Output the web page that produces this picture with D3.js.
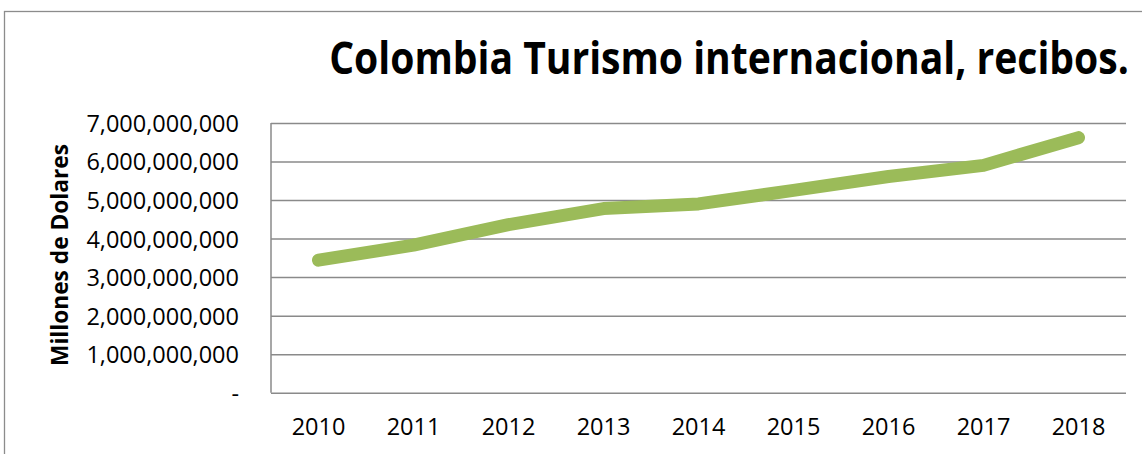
<!DOCTYPE html>
<html><head><meta charset="utf-8">
<script src="https://cdn.jsdelivr.net/npm/d3@7"></script>
<style>html,body{margin:0;padding:0;background:#fff;overflow:hidden}svg{display:block}</style>
</head><body>
<script>
const years = ["2010","2011","2012","2013","2014","2015","2016","2017","2018"];
const receipts = [3440000000, 3830000000, 4360000000, 4780000000, 4900000000, 5250000000, 5610000000, 5900000000, 6620000000];
const yTicks = [0, 1000000000, 2000000000, 3000000000, 4000000000, 5000000000, 6000000000, 7000000000];
const title = "Colombia Turismo internacional, recibos.";
const yTitle = "Millones de Dolares";

const W = 1142, H = 454;
const m = {left: 271, right: 1126, top: 123, bottom: 392.7};
const svg = d3.select("body").append("svg").attr("width", W).attr("height", H);
const font = "'Open Sans', 'Noto Sans', sans-serif";

svg.append("rect").attr("x", 4.5).attr("y", 11.5).attr("width", W + 10).attr("height", H + 10)
  .attr("fill", "none").attr("stroke", "#8c8c8c").attr("stroke-width", 1.3);

const x = d3.scaleBand().domain(years).range([m.left, m.right]).padding(0);
const y = d3.scaleLinear().domain([0, 7000000000]).range([m.bottom, m.top]);

// gridlines
const grid = svg.append("g")
  .attr("transform", `translate(${m.left},0)`)
  .call(d3.axisLeft(y).tickValues(yTicks).tickSize(-(m.right - m.left)).tickFormat(""));
grid.select(".domain").remove();
grid.selectAll("line").attr("stroke", "#8a8a8a").attr("stroke-width", 1.5);

// left axis line
svg.append("line").attr("x1", m.left).attr("x2", m.left).attr("y1", m.top).attr("y2", m.bottom)
  .attr("stroke", "#8a8a8a").attr("stroke-width", 1.5);

// y labels
const fmt = d3.format(",");
const yl = svg.append("g").attr("transform", `translate(239,0)`)
  .call(d3.axisLeft(y).tickValues(yTicks).tickSize(0).tickPadding(0)
    .tickFormat(d => d === 0 ? "-" : fmt(d)));
yl.select(".domain").remove();
yl.selectAll("text").attr("font-family", font).attr("font-size", 23.5).attr("fill", "#000")
  .attr("dy", "0.36em").attr("text-anchor", "end");

// x labels
const xl = svg.append("g").attr("transform", `translate(0,${m.bottom})`)
  .call(d3.axisBottom(x).tickSize(0).tickPadding(0));
xl.select(".domain").remove();
xl.selectAll("text").attr("font-family", font).attr("font-size", 23.5).attr("fill", "#000")
  .attr("dy", null).attr("y", 42.5);

// line
const line = d3.line().x((d, i) => x(years[i]) + x.bandwidth() / 2).y(d => y(d));
svg.append("path").datum(receipts).attr("d", line)
  .attr("fill", "none").attr("stroke", "#9BBB59").attr("stroke-width", 13)
  .attr("stroke-linecap", "round").attr("stroke-linejoin", "round");

// condensed text via horizontal scale (mimics a narrow face)
function fitText(cx, cy, rot, txt, size, targetLen) {
  const g = svg.append("g");
  const t = g.append("text").attr("text-anchor", "middle")
    .attr("font-family", font).attr("font-weight", "bold").attr("font-size", size)
    .attr("fill", "#000").text(txt);
  const natural = t.node().getComputedTextLength();
  const sx = Math.min(1, targetLen / natural);
  g.attr("transform", `translate(${cx},${cy}) rotate(${rot}) scale(${sx},1)`);
}
fitText(729, 74, 0, title, 45, 800);
fitText(68, 255, -90, yTitle, 23, 222);
</script>
</body></html>
